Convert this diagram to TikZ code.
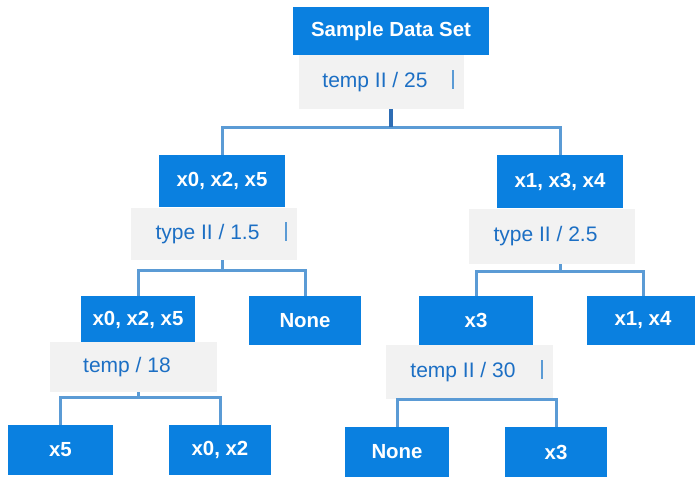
\documentclass[tikz,border=0pt]{standalone}
\usepackage{fontspec}
\setmainfont{Liberation Sans}
\definecolor{boxblue}{HTML}{0A80E0}
\definecolor{splitgray}{HTML}{F2F2F2}
\definecolor{splittext}{HTML}{1C6FC4}
\definecolor{linkblue}{HTML}{5B9BD5}
\definecolor{stubblue}{HTML}{2E6DB4}

\begin{document}
\begin{tikzpicture}[x=0.5pt,y=-0.5pt,
    data/.style={fill=boxblue,text=white,inner sep=0pt,font=\fontsize{10.2}{12}\selectfont\bfseries},
    split/.style={fill=splitgray,text=splittext,inner sep=0pt,font=\fontsize{10.5}{12}\selectfont,execute at end node={\hspace{6.5pt}}},
    link/.style={draw=linkblue,line width=1.5pt},
    stub/.style={draw=stubblue,line width=2pt},
    caret/.style={draw=linkblue,line width=1pt}]
                \useasboundingbox (0,0) rectangle (695,477);
                % root and first split
                \node[data,minimum width=98pt,minimum height=24pt](Root)at(391, 31){Sample Data Set};
                \node[split,minimum width=82.5pt,minimum height=27pt](S0)at(381.5, 82){temp II / 25};
                % level 1
                \node[data,minimum width=63pt,minimum height=26pt](L1)at(222, 181){x0, x2, x5};
                \node[data,minimum width=63pt,minimum height=26.5pt](R1)at(560, 181.5){x1, x3, x4};
                \node[split,minimum width=83pt,minimum height=26pt](S1)at(214, 234){type II / 1.5};
                \node[split,minimum width=83pt,minimum height=27.5pt](S2)at(552, 236.5){type II / 2.5};
                % level 2
                \node[data,minimum width=57pt,minimum height=23.5pt](LL2)at(138, 319.5){x0, x2, x5};
                \node[data,minimum width=56pt,minimum height=24.5pt](LR2)at(305, 320.5){None};
                \node[data,minimum width=57pt,minimum height=24.5pt](RL2)at(476, 320.5){x3};
                \node[data,minimum width=56pt,minimum height=24.5pt](RR2)at(643, 320.5){x1, x4};
                \node[split,minimum width=83.5pt,minimum height=25pt](S3)at(133.5, 367){temp / 18};
                \node[split,minimum width=83.5pt,minimum height=27pt](S4)at(469.5, 372){temp II / 30};
                % leaves
                \node[data,minimum width=52.5pt,minimum height=25pt](A)at(60.5, 450){x5};
                \node[data,minimum width=51pt,minimum height=25pt](B)at(220, 450){x0, x2};
                \node[data,minimum width=52pt,minimum height=25pt](C)at(397, 452){None};
                \node[data,minimum width=51pt,minimum height=25pt](D)at(556, 452){x3};
                % cursor marks
                \draw[caret](S0.east) ++(-11,-12) -- ++(0,19);
                \draw[caret](S1.east) ++(-11,-12) -- ++(0,19);
                \draw[caret](S4.east) ++(-11,-12) -- ++(0,19);
                % connectors
                \path(Root |- S0.south) ++(0,18) coordinate(J0);
                \draw[link](L1.north) |- (J0) -| (R1.north);
                \draw[stub](Root |- S0.south) -- (J0);
                \path(L1 |- S1.south) ++(0,10) coordinate(J1);
                \draw[link](LL2.north) |- (J1) -| (LR2.north);
                \draw[link](L1 |- S1.south) -- (J1);
                \path(R1 |- S2.south) ++(0,7) coordinate(J2);
                \draw[link](RL2.north) |- (J2) -| (RR2.north);
                \draw[link](R1 |- S2.south) -- (J2);
                \path(LL2 |- S3.south) ++(0,5) coordinate(J3);
                \draw[link](A.north) |- (J3) -| (B.north);
                \draw[link](LL2 |- S3.south) -- (J3);
                \path(RL2 |- S4.south) ++(0,0) coordinate(J4);
                \draw[link](C.north) |- (J4) -| (D.north);
            \end{tikzpicture}
\end{document}
